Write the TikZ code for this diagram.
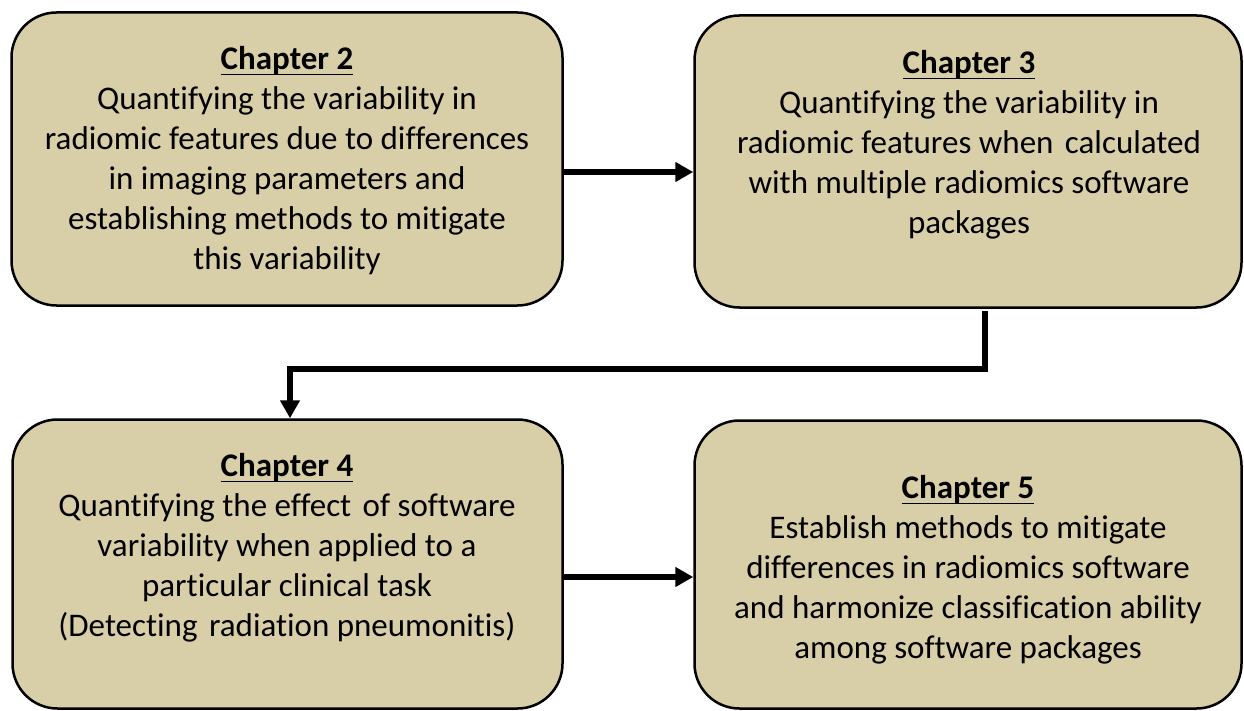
\documentclass[tikz,border=0pt]{standalone}
\usepackage{fontspec}
\setmainfont[Ligatures={NoCommon}]{Carlito}
\usetikzlibrary{arrows.meta}
\definecolor{boxfill}{RGB}{216,207,168}
\newsavebox{\cheadbox}
\newcommand{\chead}[1]{{\bfseries\sbox{\cheadbox}{#1}\rlap{\rule[-5.5pt]{\wd\cheadbox}{1.6pt}}\usebox{\cheadbox}}}
\newcommand{\xsp}{\hspace{4pt}}
\begin{document}
\begin{tikzpicture}[x=1pt,y=-1pt,
  chbox/.style={rectangle, draw=black, line width=2.5pt, fill=boxfill, rounded corners=45pt, inner sep=0pt},
  chtext/.style={align=center, font=\fontsize{33}{40}\selectfont, inner sep=0pt, text=black},
  arr/.style={line width=5.5pt, line join=miter, -{Triangle[length=18pt,width=19pt]}}]
\useasboundingbox (0,0) rectangle (1244,711);
\node[chbox, minimum width=551pt, minimum height=293pt] (b1) at (287,159) {};
\node[chbox, minimum width=547pt, minimum height=292pt] (b2) at (968,161.5) {};
\node[chbox, minimum width=550pt, minimum height=289pt] (b3) at (287.5,564) {};
\node[chbox, minimum width=547pt, minimum height=288pt] (b4) at (968,564.5) {};
\node[chtext] (t1) at (287,161) {\chead{Chapter 2}\\Quantifying the variability in\\radiomic features due to differences\\in imaging parameters and\\establishing methods to mitigate\\this variability};
\node[chtext] (t2) at (969,145) {\chead{Chapter 3}\\Quantifying the variability in\\radiomic features when \xsp{}calculated\\with multiple radiomics software\\packages};
\node[chtext] (t3) at (287,548) {\chead{Chapter 4}\\Quantifying the effect \xsp{}of software\\variability when applied to a\\particular clinical task\\(Detecting \xsp{}radiation pneumonitis)};
\node[chtext] (t4) at (968,570) {\chead{Chapter 5}\\Establish methods to mitigate\\differences in radiomics software\\and harmonize classification ability\\among software packages};
\coordinate (elbow) at (290,369);
\draw[arr] ([yshift=-13pt]b1.east) -- ([yshift=-13pt]b1.east -| b2.west);
\draw[arr] ([xshift=17pt,yshift=-2pt]b2.south) |- (elbow) -- (elbow |- b3.north);
\draw[arr] ([yshift=-13pt]b3.east) -- ([yshift=-13pt]b3.east -| b4.west);
\end{tikzpicture}
\end{document}
